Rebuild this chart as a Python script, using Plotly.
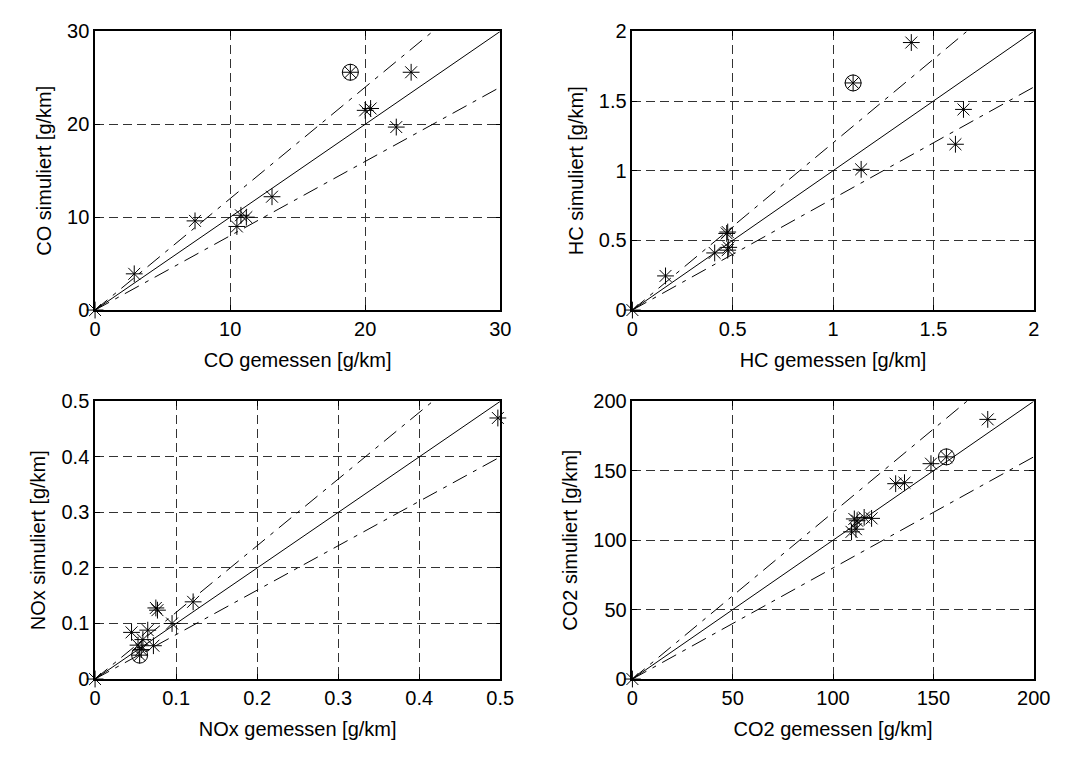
import plotly.graph_objects as go

# ---------------- data ----------------
co_meas = [0, 2.9, 7.4, 10.5, 10.8, 11.2, 13.1, 18.9, 20.0, 20.4, 22.3, 23.4]
co_sim = [0, 3.9, 9.6, 9.0, 10.2, 10.0, 12.2, 25.6, 21.5, 21.7, 19.7, 25.6]
co_circ_meas = [18.9]
co_circ_sim = [25.6]

hc_meas = [0, 0.165, 0.41, 0.47, 0.475, 0.475, 0.48, 1.10, 1.14, 1.39, 1.61, 1.65]
hc_sim = [0, 0.245, 0.41, 0.55, 0.56, 0.43, 0.45, 1.63, 1.01, 1.92, 1.19, 1.44]
hc_circ_meas = [1.10]
hc_circ_sim = [1.63]

nox_meas = [0, 0.045, 0.065, 0.075, 0.077, 0.095, 0.121, 0.059, 0.053, 0.072, 0.057, 0.055, 0.497]
nox_sim = [0, 0.084, 0.088, 0.128, 0.124, 0.100, 0.139, 0.071, 0.061, 0.060, 0.053, 0.043, 0.47]
nox_circ_meas = [0.055]
nox_circ_sim = [0.043]

co2_meas = [0, 109.2, 110.6, 111.4, 112.0, 115.5, 119.2, 131.2, 135.6, 148.8, 156.5, 177.1]
co2_sim = [0, 106.0, 115.3, 107.9, 114.0, 116.4, 115.7, 140.7, 141.4, 155.1, 160.0, 187.0]
co2_circ_meas = [156.5]
co2_circ_sim = [160.0]

# axis settings per panel
panels = [
    dict(name="CO", xm=co_meas, ys=co_sim, cx=co_circ_meas, cy=co_circ_sim,
         rmax=30, ticks=[0, 10, 20, 30], labels=["0", "10", "20", "30"]),
    dict(name="HC", xm=hc_meas, ys=hc_sim, cx=hc_circ_meas, cy=hc_circ_sim,
         rmax=2, ticks=[0, 0.5, 1, 1.5, 2], labels=["0", "0.5", "1", "1.5", "2"]),
    dict(name="NOx", xm=nox_meas, ys=nox_sim, cx=nox_circ_meas, cy=nox_circ_sim,
         rmax=0.5, ticks=[0, 0.1, 0.2, 0.3, 0.4, 0.5],
         labels=["0", "0.1", "0.2", "0.3", "0.4", "0.5"]),
    dict(name="CO2", xm=co2_meas, ys=co2_sim, cx=co2_circ_meas, cy=co2_circ_sim,
         rmax=200, ticks=[0, 50, 100, 150, 200], labels=["0", "50", "100", "150", "200"]),
]
factors = [1.0, 1.2, 0.8]   # reference line and +/-20 % bands

W, H = 1083, 758
xdom = [[91 / W, 505 / W], [640 / W, 1050 / W]]
ydom = [[1 - 308 / H, 1 - 21 / H], [1 - 688 / H, 1 - 402 / H]]

FONT = dict(family="Liberation Sans, Arial, sans-serif", size=20, color="black")

fig = go.Figure()
layout = dict(width=W, height=H, margin=dict(l=0, r=0, t=0, b=0),
              paper_bgcolor="white", plot_bgcolor="white", showlegend=False, font=FONT)

for i, p in enumerate(panels):
    k = i + 1
    xa = "x" if k == 1 else f"x{k}"
    ya = "y" if k == 1 else f"y{k}"
    col = i % 2
    row = i // 2
    R = p["rmax"]
    for f in factors:
        fig.add_trace(go.Scatter(
            x=[0, R], y=[0, R * f], mode="lines", xaxis=xa, yaxis=ya,
            line=dict(color="black", width=1,
                      dash="solid" if f == 1.0 else "16px,7px,4px,7px"),
            hoverinfo="skip"))
    fig.add_trace(go.Scatter(
        x=p["xm"], y=p["ys"], mode="markers", xaxis=xa, yaxis=ya, cliponaxis=False,
        marker=dict(symbol="asterisk-open", size=14, color="black",
                    line=dict(color="black", width=1))))
    fig.add_trace(go.Scatter(
        x=p["cx"], y=p["cy"], mode="markers", xaxis=xa, yaxis=ya, cliponaxis=False,
        marker=dict(symbol="circle-open", size=16, color="black",
                    line=dict(color="black", width=1))))

    axcommon = dict(range=[0, R], tickvals=p["ticks"], ticktext=p["labels"],
                    showline=True, linecolor="black", linewidth=1.5, mirror="allticks",
                    ticks="inside", ticklen=5, tickcolor="black",
                    showgrid=True, gridcolor="#333", gridwidth=1, griddash="9px,5px",
                    zeroline=False, tickfont=FONT, fixedrange=True)
    layout["xaxis" if k == 1 else f"xaxis{k}"] = dict(
        axcommon, domain=xdom[col], anchor=ya,
        title=dict(text=f"{p['name']} gemessen [g/km]", font=FONT, standoff=14))
    layout["yaxis" if k == 1 else f"yaxis{k}"] = dict(
        axcommon, domain=ydom[row], anchor=xa,
        title=dict(text=f"{p['name']} simuliert [g/km]", font=FONT, standoff=10))

fig.update_layout(**layout)
fig.write_html("out.html")
